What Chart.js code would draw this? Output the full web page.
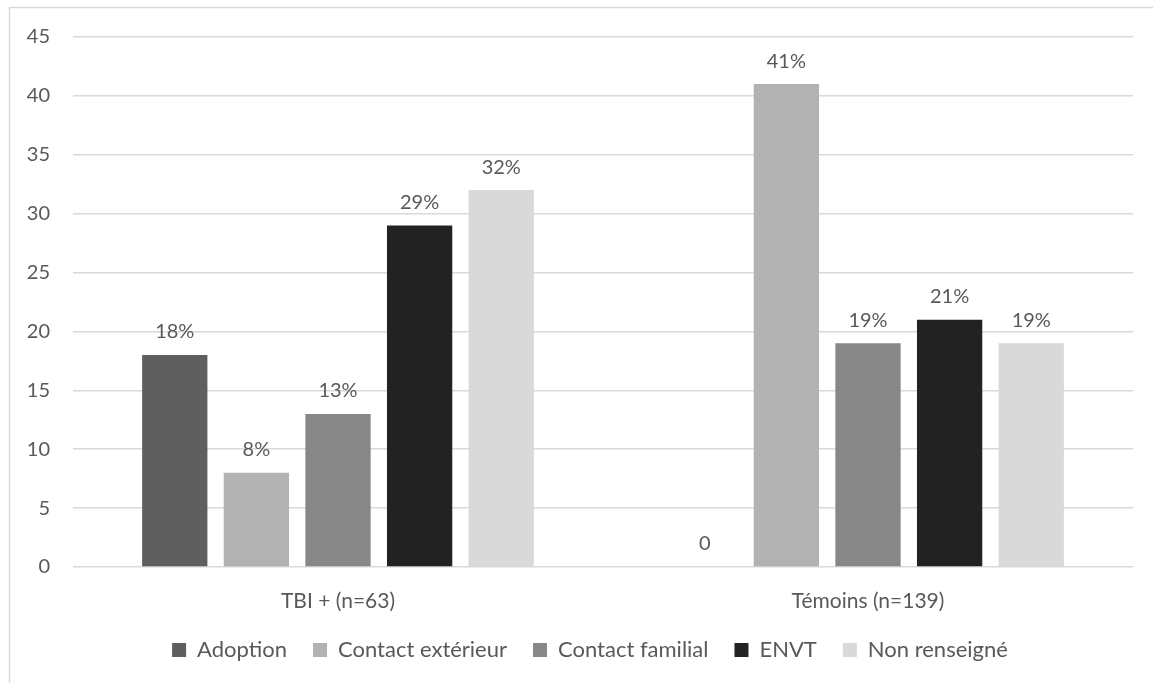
<!DOCTYPE html>
<html>
<head>
<meta charset="utf-8">
<script src="https://cdn.jsdelivr.net/npm/chart.js@4"></script>
<style>
  html, body { margin: 0; padding: 0; background: #fff; }
  #wrap { position: relative; width: 1153px; height: 683px; }
</style>
</head>
<body>
<div id="wrap"><canvas id="c" width="1153" height="683"></canvas></div>
<script>
const categories = ['TBI + (n=63)', 'Témoins (n=139)'];
const seriesNames = ['Adoption', 'Contact extérieur', 'Contact familial', 'ENVT', 'Non renseigné'];
const adoption = [18, 0];
const contactExterieur = [8, 41];
const contactFamilial = [13, 19];
const envt = [29, 21];
const nonRenseigne = [32, 19];
const yTicks = [0, 5, 10, 15, 20, 25, 30, 35, 40, 45];
const seriesColors = ['#5f5f5f', '#b2b2b2', '#878787', '#222222', '#d9d9d9'];

const seriesValues = [adoption, contactExterieur, contactFamilial, envt, nonRenseigne];
const FONT = 'Lato, "Open Sans", sans-serif';
const FS = 20;
const TEXT = '#595959';

// Outer frame lines (top and left) of the chart box
const framePlugin = {
  id: 'frame',
  beforeDraw(chart) {
    const ctx = chart.ctx;
    ctx.save();
    ctx.fillStyle = '#fff';
    ctx.fillRect(0, 0, chart.width, chart.height);
    ctx.strokeStyle = '#d9d9d9';
    ctx.lineWidth = 1.5;
    ctx.beginPath();
    ctx.moveTo(9.5, chart.height);
    ctx.lineTo(9.5, 7.5);
    ctx.lineTo(chart.width, 7.5);
    ctx.stroke();
    ctx.restore();
  }
};

// Legend row centred under the plot area; category labels allowed to overhang their band
const layoutTweaks = {
  id: 'layoutTweaks',
  afterLayout(chart) {
    const lg = chart.legend;
    if (lg) {
      const dx = (chart.chartArea.left + chart.chartArea.right) / 2 - (lg.left + lg.right) / 2 - 13;
      lg.left += dx;
      lg.right += dx;
      lg.top += 5;
      lg.bottom += 5;
    }
    chart.scales.x.bottom += 30;
  }
};

// Value labels above each bar
const valueLabels = {
  id: 'valueLabels',
  afterDatasetsDraw(chart) {
    const ctx = chart.ctx;
    ctx.save();
    ctx.font = FS + 'px ' + FONT;
    ctx.fillStyle = TEXT;
    ctx.textAlign = 'center';
    ctx.textBaseline = 'middle';
    chart.data.datasets.forEach((ds, i) => {
      const meta = chart.getDatasetMeta(i);
      meta.data.forEach((bar, j) => {
        const v = ds.data[j];
        const txt = v === 0 ? '0' : v + '%';
        ctx.fillText(txt, bar.x, bar.y - 23);
      });
    });
    ctx.restore();
  }
};

new Chart(document.getElementById('c'), {
  type: 'bar',
  data: {
    labels: categories,
    datasets: seriesNames.map((name, i) => ({
      label: name,
      data: seriesValues[i],
      backgroundColor: seriesColors[i],
      borderWidth: 0,
      categoryPercentage: 0.77,
      barPercentage: 0.8
    }))
  },
  options: {
    responsive: false,
    animation: false,
    layout: { padding: { left: 0, right: 20, top: 37, bottom: 17 } },
    scales: {
      x: {
        grid: { display: false, drawTicks: false },
        border: { display: false },
        afterFit(axis) { axis.height = 41; },
        ticks: { color: TEXT, font: { family: FONT, size: 21 }, padding: 22 }
      },
      y: {
        min: 0, max: 45,
        afterBuildTicks(axis) { axis.ticks = yTicks.map(v => ({ value: v })); },
        afterFit(axis) { axis.width = 73; },
        grid: { color: '#d9d9d9', lineWidth: 1.5, drawTicks: false },
        border: { display: false },
        ticks: { color: TEXT, font: { family: FONT, size: FS }, padding: 23 }
      }
    },
    plugins: {
      legend: {
        position: 'bottom',
        labels: {
          color: TEXT,
          font: { family: FONT, size: 22 },
          boxWidth: 14, boxHeight: 14,
          padding: 26
        }
      },
      tooltip: { enabled: false }
    }
  },
  plugins: [framePlugin, layoutTweaks, valueLabels]
});
</script>
</body>
</html>
